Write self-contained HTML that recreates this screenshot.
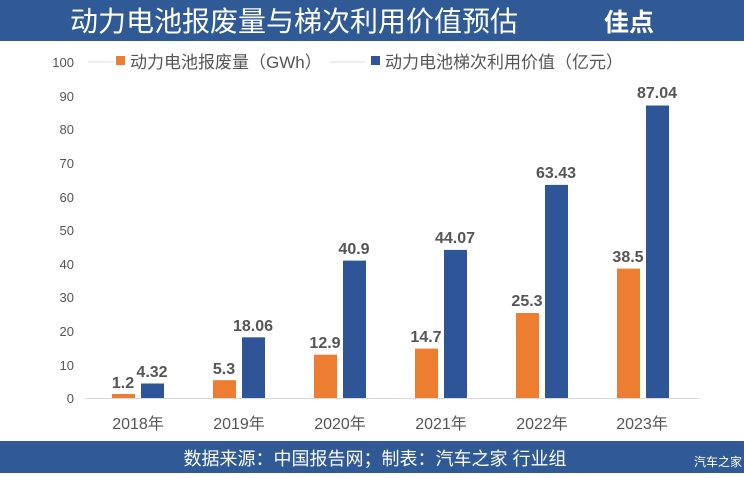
<!DOCTYPE html>
<html><head><meta charset="utf-8"><style>
body{margin:0;width:744px;height:473px;overflow:hidden;background:#fff;font-family:"Liberation Sans","Noto Sans CJK SC",sans-serif}
</style></head><body>
<svg width="744" height="473" xmlns="http://www.w3.org/2000/svg" font-family="Liberation Sans, Noto Sans CJK SC, sans-serif">
<rect x="0" y="0" width="744" height="41" fill="#2f5a95"/>
<text x="70" y="31" font-size="28" fill="#fff">动力电池报废量与梯次利用价值预估</text>
<text x="604" y="31" font-size="25" font-weight="bold" fill="#fff">佳点</text>
<rect x="0" y="441" width="744" height="32" fill="#2f5a95"/>
<text x="375" y="465" font-size="18" fill="#fff" text-anchor="middle">数据来源：中国报告网；制表：汽车之家 行业组</text>
<text x="742" y="466" font-size="12" fill="#fff" text-anchor="end">汽车之家</text>
<line x1="85" y1="398.5" x2="700" y2="398.5" stroke="#d9d9d9"/>
<g font-size="13" fill="#555" text-anchor="end">
<text x="74" y="67">100</text><text x="74" y="101">90</text><text x="74" y="134">80</text><text x="74" y="168">70</text><text x="74" y="202">60</text><text x="74" y="235">50</text><text x="74" y="269">40</text><text x="74" y="302">30</text><text x="74" y="336">20</text><text x="74" y="370">10</text><text x="74" y="403">0</text>
</g>
<line x1="88" y1="62" x2="115" y2="62" stroke="#ddd"/>
<rect x="116" y="56" width="9" height="9" fill="#ed7d31"/>
<text x="130" y="68" font-size="17" fill="#555">动力电池报废量（GWh）</text>
<line x1="330" y1="62" x2="365" y2="62" stroke="#ddd"/>
<rect x="371" y="56" width="9" height="9" fill="#2e5597"/>
<text x="385" y="68" font-size="17" fill="#555">动力电池梯次利用价值（亿元）</text>
<g font-size="16" font-weight="bold" fill="#555" text-anchor="middle">
<rect x="112" y="394" width="23" height="4" fill="#ed7d31"/><rect x="141" y="383.5" width="23" height="14.5" fill="#2e5597"/>
<text x="123" y="388">1.2</text><text x="152" y="377">4.32</text><text x="138" y="429" font-weight="normal" font-size="16">2018年</text>
<rect x="213" y="380.2" width="23" height="17.8" fill="#ed7d31"/><rect x="242" y="337.3" width="23" height="60.7" fill="#2e5597"/>
<text x="224" y="374">5.3</text><text x="253" y="331">18.06</text><text x="239" y="429" font-weight="normal">2019年</text>
<rect x="314" y="354.7" width="23" height="43.3" fill="#ed7d31"/><rect x="343" y="260.6" width="23" height="137.4" fill="#2e5597"/>
<text x="325" y="348">12.9</text><text x="354" y="254">40.9</text><text x="340" y="429" font-weight="normal">2020年</text>
<rect x="415" y="348.6" width="23" height="49.4" fill="#ed7d31"/><rect x="444" y="249.9" width="23" height="148.1" fill="#2e5597"/>
<text x="426" y="342">14.7</text><text x="455" y="243">44.07</text><text x="441" y="429" font-weight="normal">2021年</text>
<rect x="516" y="313" width="23" height="85" fill="#ed7d31"/><rect x="545" y="184.9" width="23" height="213.1" fill="#2e5597"/>
<text x="527" y="306">25.3</text><text x="556" y="178">63.43</text><text x="542" y="429" font-weight="normal">2022年</text>
<rect x="617" y="268.6" width="23" height="129.4" fill="#ed7d31"/><rect x="646" y="105.5" width="23" height="292.5" fill="#2e5597"/>
<text x="628" y="262">38.5</text><text x="657" y="98">87.04</text><text x="642" y="429" font-weight="normal">2023年</text>
</g>
</svg>
</body></html>
